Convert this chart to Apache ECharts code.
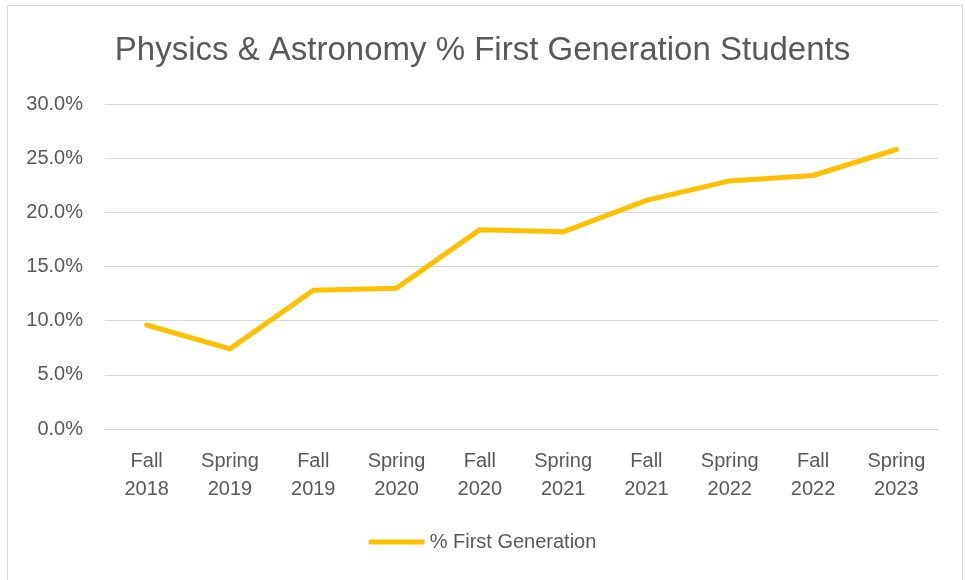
<!DOCTYPE html>
<html>
<head>
<meta charset="utf-8">
<script src="https://cdn.jsdelivr.net/npm/echarts@6/dist/echarts.min.js"></script>
<style>
  html, body { margin: 0; padding: 0; background: #fff; }
  #chart { width: 965px; height: 580px; }
</style>
</head>
<body>
<div id="chart"></div>
<script>
// terms along the x axis
var terms = ['Fall\n2018', 'Spring\n2019', 'Fall\n2019', 'Spring\n2020', 'Fall\n2020',
             'Spring\n2021', 'Fall\n2021', 'Spring\n2022', 'Fall\n2022', 'Spring\n2023'];
// % first generation students
var firstGen = [9.6, 7.4, 12.8, 13.0, 18.4, 18.2, 21.1, 22.9, 23.4, 25.8];
var seriesName = '% First Generation';

var textColor = '#595959';
var font = 'Liberation Sans';

var myChart = echarts.init(document.getElementById('chart'));
var option = {
  backgroundColor: '#fff',
  animation: false,
  graphic: [{
    type: 'rect',
    shape: { x: 7.5, y: 5.5, width: 955, height: 580 },
    style: { fill: 'none', stroke: '#d9d9d9', lineWidth: 1 },
    silent: true
  }],
  title: {
    text: 'Physics & Astronomy % First Generation Students',
    left: 'center',
    top: 29,
    textStyle: { fontFamily: font, fontSize: 33, fontWeight: 'normal', color: textColor }
  },
  legend: {
    bottom: 23,
    left: 'center',
    itemWidth: 56,
    itemHeight: 5,
    itemGap: 4,
    icon: 'roundRect',
    data: [seriesName],
    textStyle: { fontFamily: font, fontSize: 20, color: textColor }
  },
  grid: { left: 105, right: 27, top: 104, bottom: 151 },
  xAxis: {
    type: 'category',
    data: terms,
    boundaryGap: true,
    axisLine: { show: false },
    axisTick: { show: false },
    axisLabel: { fontFamily: font, fontSize: 20, color: textColor, margin: 18, lineHeight: 28 }
  },
  yAxis: {
    type: 'value',
    min: 0,
    max: 30,
    interval: 5,
    axisLine: { show: false },
    axisTick: { show: false },
    splitLine: { lineStyle: { color: '#d9d9d9', width: 1 } },
    axisLabel: {
      fontFamily: font, fontSize: 20, color: textColor, margin: 22,
      formatter: function (v) { return v.toFixed(1) + '%'; }
    }
  },
  series: [{
    name: seriesName,
    type: 'line',
    data: firstGen,
    showSymbol: false,
    symbol: 'none',
    lineStyle: { color: '#FFC000', width: 5, cap: 'round', join: 'round' },
    itemStyle: { color: '#FFC000' }
  }]
};
myChart.setOption(option);
</script>
</body>
</html>
